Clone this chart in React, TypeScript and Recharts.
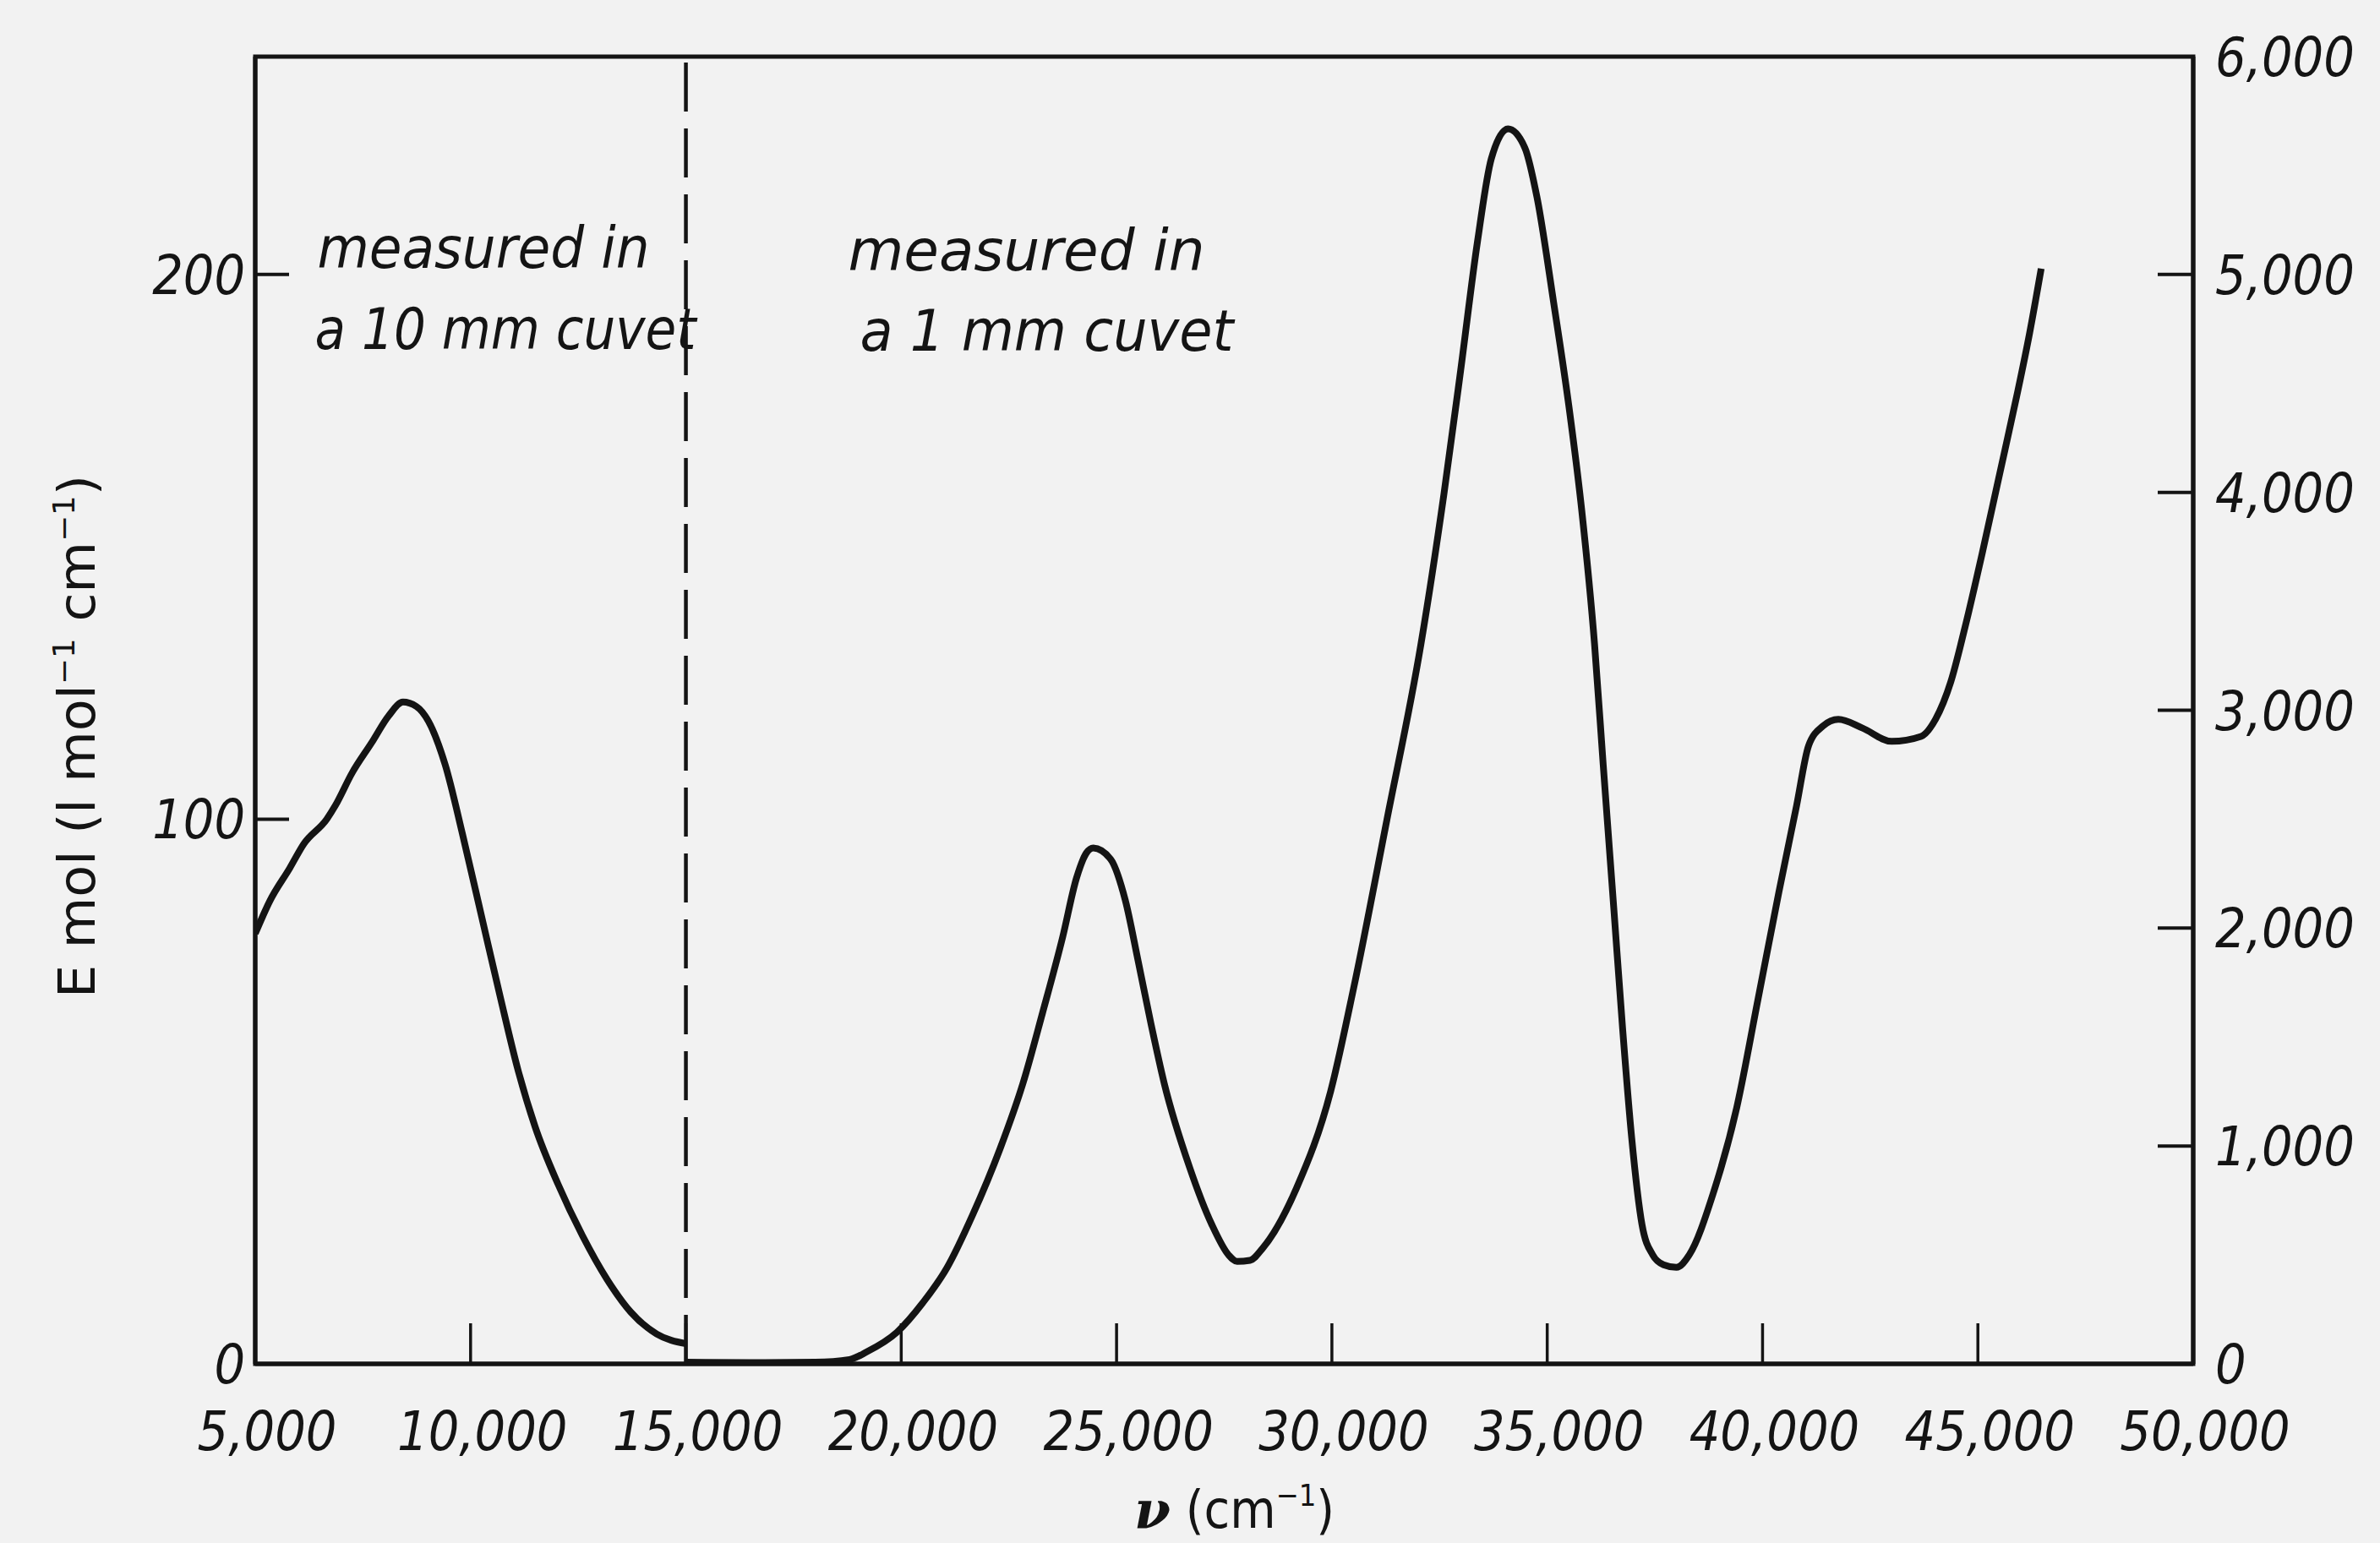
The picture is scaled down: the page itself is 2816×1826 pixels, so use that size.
import { LineChart, Line, XAxis, YAxis, ReferenceLine, ReferenceArea } from 'recharts';

// wavenumber (cm-1) and molar extinction, 10 mm cuvet part (left axis)
const NU_10MM = [5000, 5340, 5800, 6130, 6660, 6860, 7250, 7700, 8100, 8430, 8740, 9020, 9410, 9820, 10260, 10700, 11100, 11500, 12030, 12600, 13170, 13720, 14320, 15000];
const EPS_10MM = [79, 85, 91, 95.5, 100, 102.5, 108.5, 114, 119, 121.5, 120.7, 118, 110, 97, 82, 67, 54, 43.5, 33, 23.5, 15.5, 9.5, 5.5, 3.7];

// 1 mm cuvet part (right axis)
const NU_1MM = [
  15000, 16500, 18000, 18800, 19200, 19900, 20500, 21060, 21650, 22300, 22830, 23280, 23750, 24070,
  24300, 24460, 24860, 25200, 25500, 25800, 26110, 26700, 27210, 27600, 27800, 28100, 28390, 29180,
  29970, 30500, 31280, 32065, 32600, 32990, 33380, 33700, 34090, 34480, 34760, 35150, 35500, 35800,
  36100, 36300, 36550, 36750, 36960, 37200, 37450, 37700, 38000, 38300, 38850, 39400, 39890, 40380,
  40790, 41070, 41400, 41760, 42310, 43000, 43680, 44020, 44370, 44700, 45100, 45500, 45900, 46200,
  46470,
];
const EPS_1MM = [
  8, 6, 8, 20, 55, 145, 280, 440, 680, 990, 1290, 1610, 1960, 2230,
  2345, 2368, 2317, 2130, 1850, 1560, 1285, 900, 640, 500, 470, 475, 530, 807,
  1250, 1720, 2500, 3300, 3990, 4560, 5150, 5530, 5668, 5582, 5357, 4870, 4400, 3920,
  3300, 2750, 2080, 1540, 1040, 640, 500, 455, 443, 501, 780, 1176, 1669, 2166,
  2562, 2838, 2927, 2958, 2919, 2857, 2880, 2960, 3130, 3380, 3720, 4080, 4440, 4730,
  5027,
];

const X_TICKS = [5000, 10000, 15000, 20000, 25000, 30000, 35000, 40000, 45000, 50000];
const LEFT_TICKS = [0, 100, 200];
const RIGHT_TICKS = [0, 1000, 2000, 3000, 4000, 5000, 6000];

const FONT = '"DejaVu Sans Condensed", "Liberation Sans Narrow", "DejaVu Sans", sans-serif';
const INK = '#141414';
const PAPER = '#f2f2f2';

const lowData = NU_10MM.map((x, i) => ({ x, y: EPS_10MM[i] }));
const highData = NU_1MM.map((x, i) => ({ x, y: EPS_1MM[i] }));

const fmt = (v: number) => v.toLocaleString('en-US');

function XTick({ x, y, payload }: any) {
  const v = payload.value;
  const edge = v === X_TICKS[0] || v === X_TICKS[X_TICKS.length - 1];
  return (
    <g>
      {!edge && <line x1={x} x2={x} y1={y} y2={y - 48} stroke={INK} strokeWidth={3.5} />}
      <text x={x + 14} y={y + 102} textAnchor="middle" fontFamily={FONT} fontStyle="italic" fontSize={64} fill={INK}>
        {fmt(v)}
      </text>
    </g>
  );
}

function LeftTick({ x, y, payload }: any) {
  const v = payload.value;
  return (
    <g>
      {v !== 0 && <line x1={x} x2={x + 40} y1={y} y2={y} stroke={INK} strokeWidth={4} />}
      <text x={x - 12} y={y + 23} textAnchor="end" fontFamily={FONT} fontStyle="italic" fontSize={64} fill={INK}>
        {fmt(v)}
      </text>
    </g>
  );
}

function RightTick({ x, y, payload }: any) {
  const v = payload.value;
  const edge = v === 0 || v === 6000;
  return (
    <g>
      {!edge && <line x1={x} x2={x - 42} y1={y} y2={y} stroke={INK} strokeWidth={4} />}
      <text x={x + 26} y={y + 23} textAnchor="start" fontFamily={FONT} fontStyle="italic" fontSize={64} fill={INK}>
        {fmt(v)}
      </text>
    </g>
  );
}

function Notes({ viewBox }: any) {
  const x = viewBox.x;
  const top = viewBox.y;
  const common = { fontFamily: FONT, fontStyle: 'italic', fontSize: 68, fill: INK, lengthAdjust: 'spacingAndGlyphs' as const };
  return (
    <g>
      <text x={x - 436} y={top + 250} textLength={393} {...common}>measured in</text>
      <text x={x - 439} y={top + 346} textLength={451} {...common}>a 10 mm cuvet</text>
      <text x={x + 192} y={top + 253} textLength={422} {...common}>measured in</text>
      <text x={x + 206} y={top + 348} textLength={442} {...common}>a 1 mm cuvet</text>
    </g>
  );
}

function XTitle({ viewBox }: any) {
  const cx = viewBox.x + viewBox.width / 2 + 12;
  return (
    <text x={cx} y={viewBox.y + 194} textAnchor="middle" fontFamily={FONT} fontSize={62} fill={INK}>
      <tspan fontWeight="bold" fontStyle="italic" fontFamily='"DejaVu Serif", serif'>ν</tspan>
      <tspan> (cm</tspan>
      <tspan fontSize={36} dy={-26}>−1</tspan>
      <tspan dy={26}>)</tspan>
    </text>
  );
}

function YTitle({ viewBox }: any) {
  const bx = viewBox.x + 112;
  const cy = viewBox.y + viewBox.height / 2 + 31;
  return (
    <text
      x={bx}
      y={cy}
      transform={`rotate(-90, ${bx}, ${cy})`}
      textAnchor="middle"
      fontFamily={FONT}
      fontSize={60}
      fill={INK}
      textLength={619}
      lengthAdjust="spacingAndGlyphs"
    >
      <tspan>E mol (l mol</tspan>
      <tspan fontSize={36} dy={-24}>−1</tspan>
      <tspan dy={24}> cm</tspan>
      <tspan fontSize={36} dy={-24}>−1</tspan>
      <tspan dy={24}>)</tspan>
    </text>
  );
}

export default function App() {
  return (
    <div style={{ position: 'absolute', left: 0, top: 0, width: 2816, height: 1826, background: PAPER }}>
      <LineChart width={2816} height={1826} margin={{ top: 67, right: 0, bottom: 0, left: 0 }}>
        <XAxis
          type="number"
          dataKey="x"
          domain={[5000, 50000]}
          ticks={X_TICKS}
          interval={0}
          height={212}
          tickSize={0}
          tickMargin={0}
          tickLine={false}
          tick={<XTick />}
          axisLine={{ stroke: INK, strokeWidth: 5 }}
          allowDataOverflow
          label={(p: any) => <XTitle {...p} />}
        />
        <YAxis
          yAxisId="left"
          orientation="left"
          domain={[0, 240]}
          ticks={LEFT_TICKS}
          interval={0}
          width={302}
          tickSize={0}
          tickMargin={0}
          tickLine={false}
          tick={<LeftTick />}
          axisLine={{ stroke: INK, strokeWidth: 5 }}
          allowDataOverflow
          label={(p: any) => <YTitle {...p} />}
        />
        <YAxis
          yAxisId="right"
          orientation="right"
          domain={[0, 6000]}
          ticks={RIGHT_TICKS}
          interval={0}
          width={221}
          tickSize={0}
          tickMargin={0}
          tickLine={false}
          tick={<RightTick />}
          axisLine={{ stroke: INK, strokeWidth: 5 }}
          allowDataOverflow
        />
        <ReferenceArea yAxisId="left" x1={5000} x2={50000} y1={0} y2={240} fill="none" stroke={INK} strokeWidth={5} />
        <ReferenceLine
          yAxisId="left"
          x={15000}
          stroke={INK}
          strokeWidth={4.5}
          strokeDasharray="58 20"
          label={(p: any) => <Notes {...p} />}
        />
        <Line
          yAxisId="left"
          data={lowData}
          dataKey="y"
          type="monotone"
          stroke={INK}
          strokeWidth={8}
          dot={false}
          activeDot={false}
          isAnimationActive={false}
        />
        <Line
          yAxisId="right"
          data={highData}
          dataKey="y"
          type="monotone"
          stroke={INK}
          strokeWidth={8}
          dot={false}
          activeDot={false}
          isAnimationActive={false}
        />
      </LineChart>
    </div>
  );
}
